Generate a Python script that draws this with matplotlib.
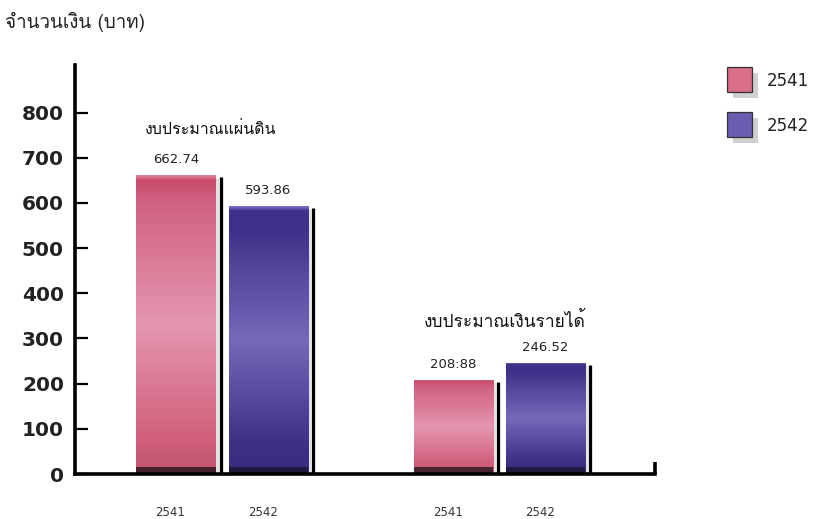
import matplotlib
matplotlib.use("Agg")
import matplotlib.pyplot as plt
import numpy as np
from matplotlib import font_manager
from matplotlib.ft2font import FT2Font
from matplotlib.patches import Rectangle
from matplotlib.colors import LinearSegmentedColormap

# ---------------- data ----------------
groups = ["งบประมาณแผ่นดิน", "งบประมาณเงินรายได้"]
series_names = ["2541", "2542"]
values_2541 = [662.74, 208.88]
values_2542 = [593.86, 246.52]
value_labels_2541 = ["662.74", "208:88"]
value_labels_2542 = ["593.86", "246.52"]
y_ticks = [0, 100, 200, 300, 400, 500, 600, 700, 800]
y_title = "จำนวนเงิน (บาท)"

# ---------------- font with Thai glyphs ----------------
thai_family = None
for f in font_manager.fontManager.ttflist:
    try:
        cm = FT2Font(f.fname).get_charmap()
        if 0x0E07 in cm and 0x0E1A in cm:
            thai_family = f.name
            if "Noto" in f.name or "Loma" in f.name or "Garuda" in f.name:
                break
    except Exception:
        pass
thai_fams = ([thai_family] if thai_family else []) + ["DejaVu Sans"]

W, H = 821, 519
fig = plt.figure(figsize=(W / 100, H / 100), dpi=100)
fig.patch.set_facecolor("white")

# axes placement in pixels
ax_left, ax_right = 75, 655
ax_bottom, ax_top = 474, 65
ax = fig.add_axes([ax_left / W, 1 - ax_bottom / H, (ax_right - ax_left) / W, (ax_bottom - ax_top) / H])
ax.set_facecolor("none")

ymax = (ax_bottom - ax_top) / 0.4517
XMIN, XMAX = -0.530, 1.560

x = np.arange(len(groups))
w = 0.285
off = 0.166

pink_cmap = LinearSegmentedColormap.from_list(
    "pk", [(0, "#e48aa3"), (0.02, "#c94a68"), (0.08, "#d06080"), (0.5, "#e596b0"),
           (0.88, "#d0607c"), (1, "#c25470")])
purp_cmap = LinearSegmentedColormap.from_list(
    "pp", [(0, "#8a7cd0"), (0.02, "#40308a"), (0.08, "#3f2f88"), (0.5, "#7868bb"),
           (0.88, "#3f3088"), (1, "#3a2c7e")])
strip_cols = {"pk": "#3a1c28", "pp": "#1c1638"}

px_x = (XMAX - XMIN) / (ax_right - ax_left)  # data units per pixel in x
px_y = ymax / (ax_bottom - ax_top)            # data units per pixel in y

def draw_bars(xs, vals, cmap):
    bars = ax.bar(xs, vals, width=w, color="none", edgecolor="none", zorder=3)
    for b in bars:
        x0, y0 = b.get_x(), 0
        x1, y1 = b.get_x() + b.get_width(), b.get_height()
        # soft grey shadow
        ax.add_patch(Rectangle((x0 + 8 * px_x, 0), b.get_width(), y1 - 8, facecolor="#dcdcdc",
                               edgecolor="none", zorder=2, alpha=0.8))
        grad = np.linspace(0, 1, 256).reshape(-1, 1)
        im = ax.imshow(grad, aspect="auto", cmap=cmap, extent=(x0, x1, y0, y1),
                       zorder=3, origin="upper", interpolation="bilinear")
        im.set_clip_path(b)
        # dark strip at the bottom
        ax.add_patch(Rectangle((x0, 0), b.get_width(), 7 * px_y, facecolor=strip_cols[cmap.name],
                               edgecolor="none", zorder=3.5, alpha=0.9))
        # black shadow line on the right
        ax.plot([x1 + 5 * px_x] * 2, [0, y1 - 6], color="black", lw=2.2, zorder=4,
                solid_capstyle="butt")
    return bars

b1 = draw_bars(x - off, values_2541, pink_cmap)
b2 = draw_bars(x + off, values_2542, purp_cmap)
ax.set_xlim(XMIN, XMAX)
ax.set_ylim(0, ymax)

for xs, vals, labs in [(x - off, values_2541, value_labels_2541), (x + off, values_2542, value_labels_2542)]:
    for xi, v, lab in zip(xs, vals, labs):
        ax.annotate(lab, (xi, v), xytext=(0, 6), textcoords="offset points", ha="center", va="bottom",
                    fontsize=9.5, color="#222222", family="DejaVu Sans")

# group titles
ax.annotate(groups[0], (x[0], values_2541[0]), xytext=(-8, 32), textcoords="offset points",
            ha="center", va="center", fontsize=11.5, family=thai_fams, color="#111111")
ax.annotate(groups[1], (x[1], values_2542[1]), xytext=(4, 30), textcoords="offset points",
            ha="center", va="center", fontsize=12.5, family=thai_fams, color="#111111")

# category tick labels under bars
cat_x = list(x - off) + list(x + off)
cat_l = [series_names[0]] * len(x) + [series_names[1]] * len(x)
for xi, lab in zip(cat_x, cat_l):
    ax.annotate(lab, (xi, 0), xytext=(-4, -28), textcoords="offset points", ha="center", va="center",
                fontsize=8.5, color="#333333", family="DejaVu Sans")

# axes styling
for s in ["top", "right"]:
    ax.spines[s].set_visible(False)
ax.spines["left"].set_linewidth(2.6)
ax.spines["bottom"].set_linewidth(2.6)
ax.spines["left"].set_zorder(6)
ax.spines["bottom"].set_zorder(6)
ax.set_yticks(y_ticks)
ax.set_yticklabels([str(t) for t in y_ticks], fontsize=14.5, fontweight="bold", family="DejaVu Sans",
                   color="#222222")
ax.tick_params(axis="y", direction="in", length=9, width=1.6, pad=8)
ax.set_xticks([])
# end tick on x axis
ax.plot([1, 1], [0, 0.03], transform=ax.transAxes, color="black", lw=2.6, clip_on=False,
        solid_capstyle="butt")

# y title
fig.text(5 / W, 1 - 22 / H, y_title, fontsize=13.5, family=thai_fams, color="#222222", va="center", ha="left")

# legend (manual)
leg_cols = ["#d96d8a", "#6a5cb0"]
leg_y = [67, 112]
for col, yy, name in zip(leg_cols, leg_y, series_names):
    fig.patches.append(Rectangle(((727 + 6) / W, 1 - (yy + 31) / H), 25 / W, 25 / H,
                                 transform=fig.transFigure, facecolor="#d0d0d0", edgecolor="none"))
    fig.patches.append(Rectangle((727 / W, 1 - (yy + 25) / H), 25 / W, 25 / H,
                                 transform=fig.transFigure, facecolor=col, edgecolor="#333333", lw=0.9))
    fig.text(767 / W, 1 - (yy + 14) / H, name, fontsize=12, color="#222222", va="center", ha="left")

fig.savefig("out.png", dpi=100, facecolor="white")
